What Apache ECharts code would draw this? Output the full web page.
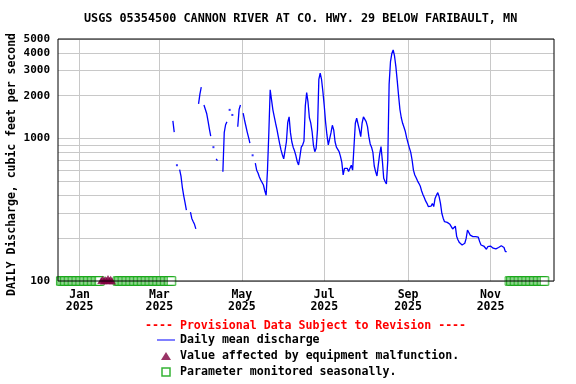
<!DOCTYPE html>
<html><head><meta charset="utf-8">
<script src="https://cdn.jsdelivr.net/npm/echarts@6/dist/echarts.min.js"></script>
<style>html,body{margin:0;padding:0;background:#fff}#c{width:576px;height:384px}</style>
</head><body><div id="c"></div>
<script>
// ---------- texts ----------
const chartTitle = 'USGS 05354500 CANNON RIVER AT CO. HWY. 29 BELOW FARIBAULT, MN';
const yAxisTitle = 'DAILY Discharge, cubic feet per second';
const provisionalNote = '---- Provisional Data Subject to Revision ----';
const seriesNames = ['Daily mean discharge', 'Value affected by equipment malfunction.', 'Parameter monitored seasonally.'];
const monthNames = ['Jan','Feb','Mar','Apr','May','Jun','Jul','Aug','Sep','Oct','Nov','Dec'];

// ---------- axes ----------
const axisStart = '2024-12-16';
const axisEnd = '2025-12-18';
const yGridValues = [100,200,300,400,500,600,700,800,900,1000,2000,3000,4000,5000];
const yLabelValues = [100,1000,2000,3000,4000,5000];

// ---------- daily mean discharge (cfs), first value on 2025-03-11 ----------
const flowStart = '2025-03-11';
const marFlow = [1330,1110,null,650,null,605,545,455,398,355,315,null,null,305,275,262,250,232,null,1750,2050];
const aprFlow = [2300,null,1720,1700,1500,1330,1170,1040,null,870,null,720,700,null,null,null,585,1100,1250,1310,null,1590,null,1465,null,null,null,1210,1600,1720];
const mayFlow = [null,1510,1350,1225,1110,1020,930,null,763,null,671,600,573,537,512,500,472,430,400,600,1100,2200,1870,1590,1425,1281,1160,1030,920,832,770];
const junFlow = [720,707,950,1300,1420,1100,950,870,820,760,690,653,746,870,900,960,1700,2100,1800,1400,1290,1120,900,809,855,1150,2600,2874,2600,2135];
const julFlow = [1700,1300,1060,902,920,1100,1240,1150,950,870,840,810,750,680,555,618,600,618,586,575,650,600,600,1281,1389,1425,1150,1031,1281,1420,1400];
const augFlow = [1314,1212,1031,916,870,800,642,586,546,653,777,877,700,526,500,480,700,2400,3450,3950,4190,3800,3200,2550,2000,1600,1400,1280,1200,1120,1010];
const sepFlow = [930,860,800,707,600,555,530,505,485,465,430,405,385,365,351,333,324,335,350,333,380,400,417,391,351,299,276,261,256,258];
const octFlow = [254,250,241,232,234,243,205,194,186,182,179,177,184,199,228,234,210,204,205,204,205,207,203,189,179,177,176,174,167,174,177];
const novFlow = [176,174,170,165,168,172,172,174,177,179,172,161,161];

// ---------- qualifier markers ----------
const malfunctionDates = ['2025-01-17','2025-01-18','2025-01-19','2025-01-20','2025-01-21','2025-01-22','2025-01-23','2025-01-24','2025-01-25'];
const malfunctionValues = [101,103,100,102,101,104,101,103,100];
const seasonalRanges = [['2024-12-18','2025-01-16'],['2025-01-29','2025-03-10'],['2025-11-15','2025-12-11']];
const seasonalValue = 100;

// ---------- build ----------
const DAY = 86400000;
const ymd = t => new Date(t).toISOString().slice(0,10);
const categories = [];
for (let t = Date.parse(axisStart + 'T00:00:00Z'); t <= Date.parse(axisEnd + 'T00:00:00Z'); t += DAY) categories.push(ymd(t));
const indexOf = {};
categories.forEach((c,i) => indexOf[c] = i);

const flowValues = [].concat(marFlow, aprFlow, mayFlow, junFlow, julFlow, augFlow, sepFlow, octFlow, novFlow);
const flowData = categories.map(() => null);
const s0 = indexOf[flowStart];
flowValues.forEach((v,i) => { flowData[s0 + i] = v; });
const isolated = [];
flowData.forEach((v,i) => {
  if (v != null && flowData[i-1] == null && flowData[i+1] == null) isolated.push([categories[i], v]);
});
const malfunctionData = malfunctionDates.map((d,i) => [d, malfunctionValues[i]]);
const seasonalData = [];
seasonalRanges.forEach(([a,b]) => {
  for (let i = indexOf[a]; i <= indexOf[b]; i++) seasonalData.push([categories[i], seasonalValue]);
});

const isMajor = v => v.slice(8) === '01' && (parseInt(v.slice(5,7),10) % 2 === 1);
const FONT = 'DejaVu Sans Mono';

const chart = echarts.init(document.getElementById('c'), null, {renderer:'canvas'});
chart.setOption({
  animation: false,
  backgroundColor: '#fff',
  title: [
    {text: chartTitle, left: 84, top: 13, padding: 0,
     textStyle: {fontFamily: FONT, fontWeight: 'bold', fontSize: 11.8, color: '#000'}},
    {text: provisionalNote, left: 145, top: 320, padding: 0,
     textStyle: {fontFamily: FONT, fontWeight: 'bold', fontSize: 11.6, color: '#ff0000'}}
  ],
  grid: {left: 58, right: 22, top: 39, bottom: 103, show: true, borderColor: '#000', borderWidth: 1, z: 10,
         containLabel: false, outerBoundsMode: 'none'},
  legend: {
    orient: 'vertical', left: 157, top: 333, padding: 0, itemWidth: 18, itemHeight: 8, itemGap: 2,
    selectedMode: false,
    textStyle: {fontFamily: FONT, fontWeight: 'bold', fontSize: 11.6, color: '#000', lineHeight: 14},
    data: [
      {name: seriesNames[0], icon: 'path://M0,0L18,0L18,1L0,1Z', itemStyle: {color: '#0000ff'}},
      {name: seriesNames[1], icon: 'path://M5,0L10,8L0,8Z', itemStyle: {color: '#800040'}},
      {name: seriesNames[2], icon: 'path://M0,0L8,0L8,8L0,8Z', itemStyle: {color: '#fff', borderColor: '#00a000', borderWidth: 1.5}}
    ]
  },
  xAxis: {
    type: 'category', data: categories, boundaryGap: false,
    axisLine: {show: false}, axisTick: {show: false},
    axisLabel: {interval: (i,v) => isMajor(v), margin: 8, lineHeight: 12,
      fontFamily: FONT, fontWeight: 'bold', fontSize: 11.5, color: '#000',
      formatter: v => monthNames[parseInt(v.slice(5,7),10)-1] + '\n' + v.slice(0,4)},
    splitLine: {show: true, interval: (i,v) => isMajor(v), lineStyle: {color: '#c8c8c8', width: 1}}
  },
  yAxis: {
    type: 'log', logBase: 10, min: 100, max: 5000,
    axisLine: {show: false},
    axisTick: {show: false, customValues: yGridValues},
    axisLabel: {customValues: yLabelValues, margin: 8, fontFamily: FONT, fontWeight: 'bold', fontSize: 11, color: '#000',
      formatter: v => String(Math.round(v))},
    splitLine: {show: true, lineStyle: {color: '#c8c8c8', width: 1}},
    name: yAxisTitle, nameLocation: 'middle', nameGap: 40, nameMoveOverlap: false,
    nameTextStyle: {fontFamily: FONT, fontWeight: 'bold', fontSize: 11.5, color: '#000', padding: [0, 9, 0, 0]}
  },
  series: [
    {name: seriesNames[0], type: 'line', data: flowData, connectNulls: false, showSymbol: false, symbol: 'none',
     lineStyle: {color: '#0000ff', width: 1.3}, itemStyle: {color: '#0000ff'}, z: 3},
    {name: 'isolated', type: 'scatter', data: isolated, symbol: 'rect', symbolSize: 2, itemStyle: {color: '#0000ff'}, z: 3},
    {name: seriesNames[2], type: 'scatter', data: seasonalData, symbol: 'rect', symbolSize: 8.5, clip: false,
     itemStyle: {color: '#fff', borderColor: '#00a000', borderWidth: 1}, z: 4},
    {name: seriesNames[1], type: 'scatter', data: malfunctionData, symbol: 'triangle', symbolSize: [8, 7], clip: false,
     itemStyle: {color: '#800040'}, z: 5}
  ]
});
</script></body></html>
